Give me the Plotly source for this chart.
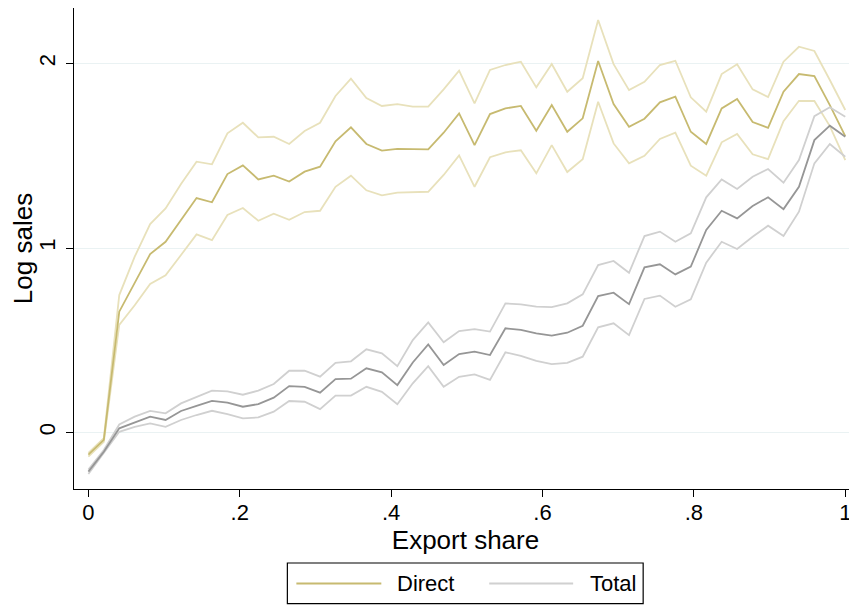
import plotly.graph_objects as go

# ---------------------------- Data -------------------------------------------------- #

export_share = [0, 0.0204, 0.0408, 0.0612, 0.0816, 0.1020, 0.1224, 0.1429, 0.1633, 0.1837,
                0.2041, 0.2245, 0.2449, 0.2653, 0.2857, 0.3061, 0.3265, 0.3469, 0.3673, 0.3878,
                0.4082, 0.4286, 0.4490, 0.4694, 0.4898, 0.5102, 0.5306, 0.5510, 0.5714, 0.5918,
                0.6122, 0.6327, 0.6531, 0.6735, 0.6939, 0.7143, 0.7347, 0.7551, 0.7755, 0.7959,
                0.8163, 0.8367, 0.8571, 0.8776, 0.8980, 0.9184, 0.9388, 0.9592, 0.9796, 1.0]

direct = [-0.12, -0.04, 0.655, 0.81, 0.967, 1.034, 1.152, 1.271, 1.248, 1.401,
          1.448, 1.372, 1.392, 1.360, 1.414, 1.441, 1.578, 1.654, 1.564, 1.528,
          1.538, 1.535, 1.535, 1.625, 1.730, 1.558, 1.726, 1.757, 1.770, 1.636,
          1.775, 1.630, 1.703, 2.014, 1.780, 1.657, 1.701, 1.790, 1.820, 1.630,
          1.564, 1.757, 1.808, 1.683, 1.652, 1.847, 1.943, 1.932, 1.775, 1.607]

direct_hi = [-0.11, -0.03, 0.745, 0.953, 1.130, 1.215, 1.347, 1.468, 1.454, 1.622,
             1.679, 1.600, 1.603, 1.564, 1.634, 1.679, 1.824, 1.918, 1.813, 1.770,
             1.780, 1.766, 1.766, 1.860, 1.961, 1.784, 1.965, 1.992, 2.010, 1.871,
             1.997, 1.847, 1.920, 2.236, 1.997, 1.856, 1.901, 1.992, 2.015, 1.817,
             1.739, 1.943, 1.996, 1.860, 1.818, 2.010, 2.091, 2.068, 1.911, 1.748]

direct_lo = [-0.13, -0.05, 0.583, 0.69, 0.805, 0.852, 0.962, 1.074, 1.043, 1.179,
             1.217, 1.148, 1.186, 1.153, 1.195, 1.202, 1.332, 1.392, 1.313, 1.286,
             1.300, 1.302, 1.305, 1.396, 1.502, 1.332, 1.492, 1.519, 1.530, 1.405,
             1.558, 1.412, 1.481, 1.793, 1.567, 1.459, 1.500, 1.591, 1.625, 1.446,
             1.392, 1.573, 1.618, 1.508, 1.482, 1.688, 1.798, 1.797, 1.661, 1.477]

total = [-0.212, -0.104, 0.023, 0.055, 0.086, 0.068, 0.117, 0.144, 0.172, 0.162,
         0.140, 0.154, 0.189, 0.252, 0.248, 0.216, 0.290, 0.292, 0.348, 0.326,
         0.257, 0.380, 0.478, 0.366, 0.425, 0.438, 0.420, 0.565, 0.556, 0.538,
         0.525, 0.541, 0.579, 0.740, 0.758, 0.696, 0.895, 0.912, 0.857, 0.899,
         1.098, 1.202, 1.161, 1.228, 1.275, 1.211, 1.332, 1.585, 1.663, 1.603]

total_hi = [-0.20, -0.095, 0.044, 0.086, 0.117, 0.104, 0.158, 0.191, 0.227, 0.223,
            0.205, 0.227, 0.263, 0.335, 0.335, 0.303, 0.378, 0.386, 0.451, 0.429,
            0.360, 0.501, 0.597, 0.489, 0.550, 0.561, 0.547, 0.700, 0.695, 0.682,
            0.680, 0.700, 0.749, 0.908, 0.930, 0.866, 1.065, 1.089, 1.034, 1.080,
            1.275, 1.372, 1.320, 1.386, 1.428, 1.354, 1.477, 1.715, 1.763, 1.712]

total_lo = [-0.225, -0.113, 0.004, 0.031, 0.050, 0.031, 0.068, 0.095, 0.118, 0.100,
            0.077, 0.082, 0.113, 0.171, 0.167, 0.127, 0.200, 0.200, 0.248, 0.221,
            0.153, 0.267, 0.360, 0.248, 0.302, 0.315, 0.285, 0.435, 0.416, 0.389,
            0.371, 0.378, 0.411, 0.570, 0.592, 0.528, 0.724, 0.742, 0.682, 0.722,
            0.921, 1.034, 0.995, 1.061, 1.121, 1.065, 1.197, 1.459, 1.564, 1.495]

x_ticks = [0, 0.2, 0.4, 0.6, 0.8, 1]
x_tick_labels = ["0", ".2", ".4", ".6", ".8", "1"]
y_ticks = [0, 1, 2]
y_tick_labels = ["0", "1", "2"]

legend_names = ["Direct", "Total"]

# ---------------------------- Colours ------------------------------- #

gold = "rgb(199,186,112)"
gold_light = "rgb(232,225,187)"
grey = "rgb(150,150,150)"
grey_light = "rgb(208,208,208)"

# ---------------------------- Build figure ------------------------------- #

fig = go.Figure()

for ys, col in [(direct_hi, gold_light), (direct_lo, gold_light), (direct, gold),
                (total_hi, grey_light), (total_lo, grey_light), (total, grey)]:
    fig.add_trace(go.Scatter(x=export_share, y=ys, mode="lines",
                             line=dict(color=col, width=1.8), showlegend=False))

# legend drawn by hand so the box and long line samples look like the Stata one
fig.add_shape(type="rect", xref="paper", yref="paper",
              x0=0.2725, x1=0.7269, y0=-0.2385, y1=-0.1538,
              line=dict(color="black", width=1.2), fillcolor="white")
for name, col, lx0, lx1, tx in [(legend_names[0], gold, 0.2840, 0.3925, 0.4103),
                                (legend_names[1], grey_light, 0.5303, 0.6375, 0.6567)]:
    fig.add_shape(type="line", xref="paper", yref="paper",
                  x0=lx0, x1=lx1, y0=-0.1966, y1=-0.1966,
                  line=dict(color=col, width=2))
    fig.add_annotation(text=name, xref="paper", yref="paper", x=tx, y=-0.1966,
                       xanchor="left", yanchor="middle", showarrow=False,
                       font=dict(size=22))

# the page puts the plot 8px in from the top-left corner, so the figure is 8px smaller
fig.update_layout(
    width=849, height=598,
    margin=dict(l=65.5, r=0, t=0, b=117, autoexpand=False),
    paper_bgcolor="white",
    plot_bgcolor="white",
    font=dict(family="Liberation Sans, Arial, sans-serif", size=22, color="black"),
    showlegend=False,
)

fig.update_xaxes(range=[-0.019, 1.0155], automargin=False,
                 tickvals=x_ticks, ticktext=x_tick_labels,
                 ticklabelstandoff=-4,
                 showgrid=False, zeroline=False,
                 showline=True, linecolor="black", linewidth=1.3,
                 ticks="outside", ticklen=7, tickcolor="black", tickwidth=1.3,
                 title=dict(text="Export share", standoff=0))

fig.update_yaxes(range=[-0.306, 2.301], automargin=False,
                 tickvals=y_ticks, ticktext=y_tick_labels, tickangle=-90,
                 ticklabelstandoff=2,
                 showgrid=True, gridcolor="rgb(234,242,243)", gridwidth=1.3,
                 zeroline=False,
                 showline=True, linecolor="black", linewidth=1.3,
                 ticks="outside", ticklen=7, tickcolor="black", tickwidth=1.3,
                 title=dict(text="Log sales", standoff=0))

fig.write_html("out.html")
